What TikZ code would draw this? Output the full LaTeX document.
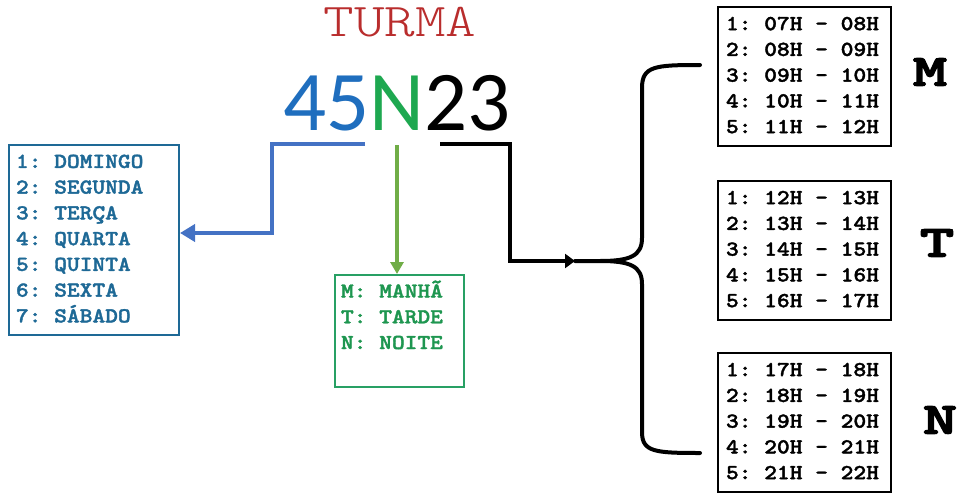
\documentclass[tikz,border=0pt]{standalone}
\usepackage{fontspec}
\newfontfamily\carlito{Carlito}
\newfontfamily\courbf{lmmonolt10-bold}[Extension=.otf, FakeBold=1.6]
\newfontfamily\courbig{lmmonolt10-bold}[Extension=.otf, FakeBold=2.5]
\newfontfamily\courlt{lmmonolt10-regular}[Extension=.otf]
\usetikzlibrary{arrows.meta}
\newcommand{\wsp}{\makebox[11.18pt][l]{\ }}
\newcommand{\mlines}[1]{\scalebox{1.14}[1]{\begin{tabular}{@{}l@{}}#1\end{tabular}}}
\definecolor{turmared}{RGB}{185,45,45}
\definecolor{dblue}{RGB}{31,110,190}
\definecolor{ngreen}{RGB}{30,168,80}
\definecolor{daycol}{RGB}{30,105,150}
\definecolor{boxgreen}{RGB}{40,160,100}
\definecolor{txtgreen}{RGB}{30,150,80}
\definecolor{linkblue}{RGB}{68,114,196}
\definecolor{linkgreen}{RGB}{112,173,71}
\tikzset{
  boxtext/.style={font=\courbf\fontsize{21.3}{25.75}\selectfont, align=left, anchor=north west, inner ysep=0pt},
  daybox/.style={boxtext, draw=daycol, line width=2pt, text=daycol, inner xsep=7pt},
  shiftbox/.style={boxtext, draw=boxgreen, line width=2pt, text=txtgreen, inner xsep=6pt},
  hourbox/.style={boxtext, draw=black, line width=2pt, text=black, inner xsep=8pt},
  bigletter/.style={font=\courbig\fontsize{45}{45}\selectfont},
  digits/.style={font=\carlito\fontsize{85}{85}\selectfont, inner sep=0pt},
  bluelink/.style={draw=linkblue, line width=4.5pt, -{Triangle[length=15pt,width=17pt]}},
  greenlink/.style={draw=linkgreen, line width=4pt, -{Triangle[length=12pt,width=13pt]}},
  blacklink/.style={draw=black, line width=4pt, -{Triangle[length=10pt,width=14pt]}},
  bracestyle/.style={draw=black, line width=4pt, line join=round, line cap=round}
}
\begin{document}
\begin{tikzpicture}[x=1pt,y=-1pt]
\useasboundingbox (0,0) rectangle (962,498);
% title
\node[font=\courlt\fontsize{47}{47}\selectfont, text=turmared, anchor=base] (turma) at (400,36) {\scalebox{1.24}[1]{TURMA}};
% code digits
\node[digits, text=ngreen, anchor=base] (nN) at (397,130) {N};
\node[digits, text=dblue, anchor=base east] (n45) at (nN.base west) {45};
\node[digits, text=black, anchor=base west] (n23) at (nN.base east) {23};
% boxes
\node[daybox, text width=156pt, minimum height=190pt] (days) at (8,144)
 {\mlines{1:\wsp DOMINGO\\2:\wsp SEGUNDA\\3:\wsp TERÇA\\4:\wsp QUARTA\\5:\wsp QUINTA\\6:\wsp SEXTA\\7:\wsp SÁBADO}};
\node[shiftbox, text width=117pt, minimum height=112pt] (shifts) at (334,274)
 {\mlines{M:\wsp MANHÃ\\T:\wsp TARDE\\N:\wsp NOITE\\~}};
\node[hourbox, text width=157pt, minimum height=139pt] (hm) at (717,6)
 {\mlines{1:\wsp 07H\wsp -\wsp 08H\\2:\wsp 08H\wsp -\wsp 09H\\3:\wsp 09H\wsp -\wsp 10H\\4:\wsp 10H\wsp -\wsp 11H\\5:\wsp 11H\wsp -\wsp 12H}};
\node[hourbox, text width=157pt, minimum height=139pt] (ht) at (717,180)
 {\mlines{1:\wsp 12H\wsp -\wsp 13H\\2:\wsp 13H\wsp -\wsp 14H\\3:\wsp 14H\wsp -\wsp 15H\\4:\wsp 15H\wsp -\wsp 16H\\5:\wsp 16H\wsp -\wsp 17H}};
\node[hourbox, text width=157pt, minimum height=139pt] (hn) at (717,352)
 {\mlines{1:\wsp 17H\wsp -\wsp 18H\\2:\wsp 18H\wsp -\wsp 19H\\3:\wsp 19H\wsp -\wsp 20H\\4:\wsp 20H\wsp -\wsp 21H\\5:\wsp 21H\wsp -\wsp 22H}};
\node[bigletter] (lm) at (930,72) {\scalebox{1.45}[1]{M}};
\node[bigletter] (lt) at (937,243) {\scalebox{1.45}[1]{T}};
\node[bigletter] (ln) at (940,420) {\scalebox{1.45}[1]{N}};
% connector anchors
\coordinate (bstart) at (365,144);
\coordinate (bcorner) at (272,144);
\coordinate (gstart) at (397,145);
\coordinate (kstart) at (440,144);
\coordinate (kcorner) at (510,144);
\coordinate (btip) at (575,261);
% blue connector
\draw[bluelink] (bstart) -- (bcorner) |- ([yshift=7pt]days.east);
% green connector
\draw[greenlink] (gstart) -- (shifts.north -| gstart);
% black connector
\draw[blacklink] (kstart) -- (kcorner) |- (btip);
% brace
\draw[bracestyle] (700,65) .. controls (655,65) and (642,66) .. (642,88)
  -- (642,238) .. controls (642,256) and (630,261) .. (600,261) -- (btip)
  -- (600,261) .. controls (630,261) and (642,266) .. (642,284)
  -- (642,432) .. controls (642,452) and (655,453) .. (700,453);
\end{tikzpicture}
\end{document}
